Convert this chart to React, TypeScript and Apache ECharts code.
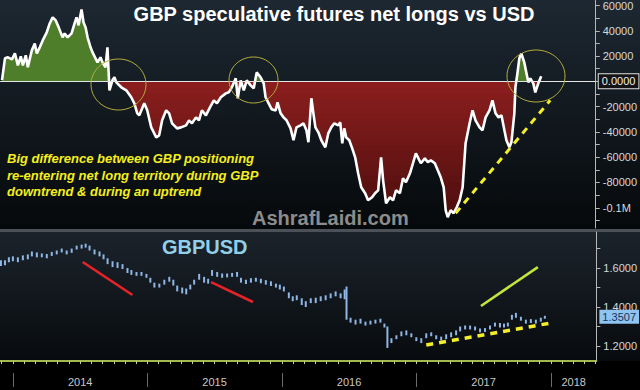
import React, { useEffect, useRef } from 'react';
import * as echarts from 'echarts';

// ---- GBP speculative futures net positions (contracts) ----
const cotDates = [
  2013.919, 2013.941, 2013.963, 2013.993, 2014.015, 2014.037, 2014.059, 2014.074, 2014.096, 2014.111,
  2014.141, 2014.163, 2014.178, 2014.2, 2014.222, 2014.252, 2014.274, 2014.296, 2014.319, 2014.341,
  2014.37, 2014.385, 2014.407, 2014.437, 2014.459, 2014.474, 2014.489, 2014.511, 2014.526, 2014.541,
  2014.556, 2014.578, 2014.593, 2014.615, 2014.63, 2014.652, 2014.667, 2014.689, 2014.704, 2014.719,
  2014.741, 2014.756, 2014.77, 2014.807, 2014.844, 2014.881, 2014.904, 2014.926, 2014.941, 2014.978,
  2015.0, 2015.03, 2015.067, 2015.089, 2015.111, 2015.141, 2015.163, 2015.185, 2015.222, 2015.252,
  2015.289, 2015.311, 2015.333, 2015.363, 2015.385, 2015.407, 2015.437, 2015.467, 2015.496, 2015.519,
  2015.548, 2015.585, 2015.607, 2015.63, 2015.659, 2015.674, 2015.696, 2015.719, 2015.741, 2015.77,
  2015.793, 2015.815, 2015.844, 2015.867, 2015.881, 2015.904, 2015.926, 2015.956, 2015.97, 2015.993,
  2016.015, 2016.037, 2016.067, 2016.089, 2016.111, 2016.141, 2016.163, 2016.185, 2016.2, 2016.222,
  2016.237, 2016.252, 2016.274, 2016.296, 2016.326, 2016.348, 2016.37, 2016.393, 2016.422, 2016.437,
  2016.452, 2016.467, 2016.481, 2016.504, 2016.526, 2016.548, 2016.57, 2016.593, 2016.622, 2016.644,
  2016.674, 2016.696, 2016.719, 2016.741, 2016.756, 2016.778, 2016.807, 2016.83, 2016.852, 2016.881,
  2016.904, 2016.926, 2016.956, 2016.978, 2017.0, 2017.015, 2017.037, 2017.067, 2017.089, 2017.111,
  2017.141, 2017.163, 2017.185, 2017.207, 2017.222, 2017.237, 2017.259, 2017.281, 2017.304, 2017.326,
  2017.348, 2017.37, 2017.4, 2017.422, 2017.444, 2017.474, 2017.496, 2017.519, 2017.548, 2017.57,
  2017.593, 2017.615, 2017.637, 2017.659, 2017.674, 2017.696, 2017.711, 2017.733, 2017.741, 2017.756,
  2017.77, 2017.785, 2017.807, 2017.822, 2017.837, 2017.852, 2017.874, 2017.889, 2017.911, 2017.933,
];
const cotNet = [
  1000, 18200, 19000, 17400, 22100, 12600, 19800, 12600, 20600, 11100,
  24500, 30000, 22100, 26900, 32400, 38700, 45800, 50600, 48200, 42700,
  34800, 37900, 34800, 37900, 45800, 50600, 44300, 56900, 46600, 42700,
  34800, 26900, 22900, 18200, 15000, 19000, 15000, 11100, 26900, -7100,
  800, 3200, -800, -4700, -7100, -12600, -17400, -25300, -26900, -17400,
  -22900, -36400, -44300, -42700, -30800, -22900, -25300, -33200, -37200, -36400,
  -34800, -30800, -33200, -28500, -30800, -22900, -26900, -20600, -15000, -17400,
  -12600, -9500, -8700, -4700, 2400, -13400, 800, -7100, 800, -3200,
  -5500, 7100, 3200, -1600, -12600, -17400, -22000, -23000, -16600, -25300,
  -28500, -30800, -37200, -46600, -36400, -34800, -33200, -38700, -48200, -13400,
  -25300, -36400, -40300, -46600, -52200, -41100, -36400, -33200, -34800, -32400,
  -49000, -37200, -44300, -46600, -53000, -60100, -72700, -83800, -88500, -94100,
  -91700, -88500, -86200, -60100, -78300, -96400, -91700, -94100, -86200, -88500,
  -76700, -79800, -72700, -64800, -56900, -60100, -64800, -60900, -64000, -62500,
  -64800, -70400, -75900, -83800, -102000, -107500, -102000, -104300, -99600, -94100,
  -83800, -49000, -33200, -22900, -30800, -36400, -38700, -28500, -22900, -15000,
  -25300, -28500, -26900, -38700, -46600, -52200, -48200, -25300, -4700, 6300,
  18200, 22100, 15000, 7100, -800, 2400, -1600, -8700, -1600, 4000,
];

// ---- GBPUSD bars (low / high) ----
const fxDates = [
  2013.911, 2013.941, 2013.97, 2014.0, 2014.037, 2014.074, 2014.111, 2014.141, 2014.178, 2014.215,
  2014.252, 2014.289, 2014.326, 2014.363, 2014.4, 2014.437, 2014.474, 2014.511, 2014.541, 2014.57,
  2014.607, 2014.644, 2014.674, 2014.704, 2014.741, 2014.778, 2014.815, 2014.852, 2014.881, 2014.919,
  2014.956, 2014.993, 2015.022, 2015.052, 2015.089, 2015.126, 2015.163, 2015.193, 2015.222, 2015.259,
  2015.289, 2015.319, 2015.348, 2015.385, 2015.422, 2015.452, 2015.481, 2015.519, 2015.556, 2015.593,
  2015.63, 2015.667, 2015.696, 2015.733, 2015.77, 2015.807, 2015.844, 2015.881, 2015.919, 2015.956,
  2015.985, 2016.015, 2016.052, 2016.081, 2016.111, 2016.148, 2016.178, 2016.215, 2016.252, 2016.289,
  2016.326, 2016.363, 2016.4, 2016.437, 2016.467, 2016.481, 2016.511, 2016.548, 2016.585, 2016.622,
  2016.659, 2016.696, 2016.733, 2016.763, 2016.785, 2016.815, 2016.852, 2016.889, 2016.926, 2016.963,
  2017.0, 2017.037, 2017.074, 2017.111, 2017.148, 2017.185, 2017.222, 2017.259, 2017.296, 2017.326,
  2017.363, 2017.4, 2017.437, 2017.474, 2017.511, 2017.548, 2017.585, 2017.622, 2017.652, 2017.681,
  2017.711, 2017.741, 2017.778, 2017.815, 2017.852, 2017.889, 2017.926, 2017.956,
];
const fxLow = [
  1.61, 1.615, 1.63, 1.635, 1.63, 1.64, 1.645, 1.66, 1.655, 1.655,
  1.65, 1.662, 1.67, 1.68, 1.67, 1.678, 1.695, 1.7, 1.705, 1.69,
  1.67, 1.66, 1.645, 1.62, 1.605, 1.6, 1.595, 1.575, 1.565, 1.56,
  1.56, 1.55, 1.525, 1.5, 1.5, 1.515, 1.53, 1.51, 1.48, 1.47,
  1.465, 1.49, 1.515, 1.54, 1.525, 1.52, 1.56, 1.555, 1.55, 1.552,
  1.555, 1.555, 1.525, 1.518, 1.525, 1.53, 1.522, 1.515, 1.508, 1.5,
  1.49, 1.48, 1.445, 1.43, 1.435, 1.41, 1.4, 1.42, 1.42, 1.43,
  1.435, 1.445, 1.455, 1.445, 1.44, 1.335, 1.32, 1.31, 1.315, 1.305,
  1.31, 1.315, 1.32, 1.295, 1.19, 1.215, 1.235, 1.25, 1.255, 1.245,
  1.225, 1.215, 1.24, 1.25, 1.235, 1.228, 1.235, 1.245, 1.255, 1.275,
  1.285, 1.285, 1.28, 1.27, 1.272, 1.285, 1.3, 1.295, 1.295, 1.3,
  1.335, 1.345, 1.33, 1.315, 1.318, 1.315, 1.325, 1.34,
];
const fxHigh = [
  1.64, 1.64, 1.655, 1.66, 1.655, 1.665, 1.67, 1.685, 1.68, 1.675,
  1.672, 1.683, 1.69, 1.7, 1.69, 1.7, 1.715, 1.72, 1.725, 1.715,
  1.695, 1.685, 1.67, 1.65, 1.635, 1.63, 1.62, 1.6, 1.59, 1.58,
  1.58, 1.57, 1.55, 1.525, 1.52, 1.54, 1.555, 1.54, 1.51, 1.5,
  1.495, 1.515, 1.54, 1.57, 1.555, 1.545, 1.59, 1.58, 1.572, 1.572,
  1.575, 1.58, 1.55, 1.54, 1.548, 1.55, 1.545, 1.538, 1.532, 1.52,
  1.515, 1.505, 1.475, 1.455, 1.46, 1.445, 1.43, 1.445, 1.448, 1.455,
  1.46, 1.47, 1.48, 1.47, 1.49, 1.505, 1.345, 1.335, 1.34, 1.325,
  1.33, 1.335, 1.34, 1.315, 1.3, 1.24, 1.255, 1.275, 1.28, 1.265,
  1.245, 1.24, 1.265, 1.27, 1.255, 1.248, 1.26, 1.27, 1.28, 1.3,
  1.305, 1.305, 1.3, 1.29, 1.292, 1.305, 1.32, 1.318, 1.315, 1.32,
  1.36, 1.37, 1.35, 1.335, 1.338, 1.335, 1.345, 1.355,
];
const fxLast = 1.3507;

// ---- axis labels ----
const cotLabelValues = [60000, 40000, 20000, -20000, -40000, -60000, -80000, -100000];
const cotTickValues = [60000, 50000, 40000, 30000, 20000, 10000, 0, -10000, -20000, -30000, -40000, -50000, -60000, -70000, -80000, -90000, -100000, -110000];
const fxLabelValues = [1.6, 1.4, 1.2];
const fxTickValues = [1.7, 1.6, 1.5, 1.4, 1.3, 1.2];
const yearTicks = [2014, 2015, 2016, 2017, 2018];
const yearLabelPositions = [2014.5, 2015.5, 2016.5, 2017.5, 2018.17];

const titleText = 'GBP speculative futures net longs vs USD';
const noteLines = [
  'Big difference between GBP positioning',
  're-entering net long territory during GBP',
  'downtrend & during an uptrend',
];
const watermark = 'AshrafLaidi.com';
const pairLabel = 'GBPUSD';

const X_MIN = 2013.904;
const X_MAX = 2018.339;
const AXIS_FONT = '"Liberation Sans Narrow", "Liberation Sans", Arial, sans-serif';
const BOLD_FONT = '"Liberation Sans", Arial, sans-serif';

function lerpColor(a: string, b: string, t: number) {
  const pa = [1, 3, 5].map((i) => parseInt(a.slice(i, i + 2), 16));
  const pb = [1, 3, 5].map((i) => parseInt(b.slice(i, i + 2), 16));
  const c = pa.map((v, i) => Math.round(v + (pb[i] - v) * t));
  return 'rgb(' + c.join(',') + ')';
}

export default function App() {
  const ref = useRef<HTMLDivElement>(null);
  useEffect(() => {
    if (!ref.current) return;
    const chart = echarts.init(ref.current, undefined, { renderer: 'svg' });

    const cotData = cotDates.map((d, i) => [d, cotNet[i]]);
    const fxData = fxDates.map((d, i) => [d, fxLow[i], fxHigh[i]]);

    const monthTicks: number[] = [];
    for (let m = 0; ; m++) {
      const v = 2013 + 11 / 12 + m / 12;
      if (v > X_MAX) break;
      monthTicks.push(v);
    }

    const pieces: any[] = [{ gt: 0, color: '#4f7e2a' }];
    for (let k = 0; k < 24; k++) {
      pieces.push({ gt: -(k + 1) * 5000, lte: -k * 5000, color: lerpColor('#8a1e1e', '#480c0c', k / 23) });
    }
    pieces.push({ lte: -120000, color: '#480c0c' });

    const lastDate = fxDates[fxDates.length - 1];

    const option: any = {
      animation: false,
      backgroundColor: '#000000',
      grid: [
        { left: 0, right: 39, top: 0, height: 228 },
        { left: 0, right: 39, top: 232, height: 129 },
      ],
      xAxis: [
        { gridIndex: 0, type: 'value', min: X_MIN, max: X_MAX, show: false },
        {
          gridIndex: 1, type: 'value', min: X_MIN, max: X_MAX, position: 'bottom',
          axisLine: { show: true, onZero: false, lineStyle: { color: '#a3b94f', width: 2 } },
          axisTick: { show: true, customValues: monthTicks, length: 3, lineStyle: { color: '#c6d48a' } },
          axisLabel: {
            show: true, customValues: yearLabelPositions, margin: 15,
            formatter: (v: number) => String(Math.floor(v + 1e-6)),
            color: '#c8c8c8', fontSize: 11, fontFamily: AXIS_FONT,
          },
          splitLine: { show: false },
        },
        {
          gridIndex: 1, type: 'value', min: X_MIN, max: X_MAX, position: 'bottom', offset: 12,
          axisLine: { show: false },
          axisTick: { show: true, customValues: yearTicks, length: 14, lineStyle: { color: '#6a6a6a' } },
          axisLabel: { show: false },
          splitLine: { show: false },
        },
      ],
      yAxis: [
        {
          gridIndex: 0, type: 'value', position: 'right', min: -116000, max: 64000,
          axisLine: { show: true, lineStyle: { color: '#b8b8b8' } },
          axisTick: { show: true, customValues: cotTickValues, length: 4, lineStyle: { color: '#b8b8b8' } },
          axisLabel: {
            show: true, customValues: cotLabelValues, margin: 7,
            formatter: (v: number) => (v === -100000 ? '-0.1M' : String(v)),
            color: '#d8d8d8', fontSize: 11, fontFamily: AXIS_FONT,
          },
          splitLine: { show: false },
        },
        {
          gridIndex: 1, type: 'value', position: 'right', min: 1.123, max: 1.785,
          axisLine: { show: true, lineStyle: { color: '#b8b8b8' } },
          axisTick: { show: true, customValues: fxTickValues, length: 4, lineStyle: { color: '#b8b8b8' } },
          axisLabel: {
            show: true, customValues: fxLabelValues, margin: 7,
            formatter: (v: number) => v.toFixed(4),
            color: '#d8d8d8', fontSize: 11, fontFamily: AXIS_FONT,
          },
          splitLine: { show: false },
        },
      ],
      visualMap: {
        show: false, type: 'piecewise', seriesIndex: 0, dimension: 1, pieces,
      },
      series: [
        {
          type: 'line', xAxisIndex: 0, yAxisIndex: 0, data: cotData, showSymbol: false, silent: true,
          lineStyle: { width: 0 }, areaStyle: { opacity: 1 }, z: 2,
        },
        {
          type: 'line', xAxisIndex: 0, yAxisIndex: 0, data: cotData, showSymbol: false, silent: true,
          lineStyle: { color: '#ffffff', width: 2.6 }, itemStyle: { color: '#ffffff' }, z: 3,
          markLine: {
            silent: true, symbol: 'none', animation: false,
            data: [
              {
                yAxis: 0,
                lineStyle: { color: '#e6e6e6', width: 1, type: 'solid' },
                label: {
                  show: true, position: 'end', distance: 3, formatter: '0.0000',
                  color: '#f0f0f0', backgroundColor: '#141414', borderColor: '#e0e0e0', borderWidth: 1,
                  padding: [2, 3, 1, 3], fontSize: 11, fontFamily: AXIS_FONT,
                },
              },
              [
                { coord: [2017.296, -104300], lineStyle: { color: '#f2ee2a', width: 3, type: [7, 6] }, label: { show: false } },
                { coord: [2018.0, -15000] },
              ],
            ],
          },
        },
        {
          type: 'custom', xAxisIndex: 1, yAxisIndex: 1, data: fxData, silent: true,
          encode: { x: 0, y: [1, 2] },
          renderItem: (params: any, api: any) => {
            const x = api.value(0);
            const top = api.coord([x, api.value(2)]);
            const bot = api.coord([x, api.value(1)]);
            return {
              type: 'rect',
              shape: { x: top[0] - 1, y: top[1], width: 2, height: Math.max(bot[1] - top[1], 1) },
              style: { fill: '#8fb6e4' },
            };
          },
          z: 2,
        },
        {
          type: 'line', xAxisIndex: 1, yAxisIndex: 1, data: [[lastDate, fxLast]], showSymbol: false, silent: true,
          lineStyle: { width: 0 }, z: 4,
          markLine: {
            silent: true, symbol: 'none', animation: false,
            data: [
              {
                yAxis: fxLast,
                lineStyle: { color: 'rgba(0,0,0,0)', width: 0 },
                label: {
                  show: true, position: 'end', distance: 3, formatter: fxLast.toFixed(4),
                  color: '#14365e', backgroundColor: '#8fc3f0', padding: [2, 3, 1, 3],
                  fontSize: 11, fontFamily: AXIS_FONT,
                },
              },
              [
                { coord: [2014.519, 1.631], lineStyle: { color: '#e52329', width: 2.6, type: 'solid' }, label: { show: false } },
                { coord: [2014.889, 1.4615] },
              ],
              [
                { coord: [2015.474, 1.528], lineStyle: { color: '#e52329', width: 2.6, type: 'solid' }, label: { show: false } },
                { coord: [2015.785, 1.4256] },
              ],
              [
                { coord: [2017.481, 1.405], lineStyle: { color: '#c2e63a', width: 2.6, type: 'solid' }, label: { show: false } },
                { coord: [2017.904, 1.605] },
              ],
              [
                { coord: [2017.074, 1.205], lineStyle: { color: '#f2ee2a', width: 3.5, type: [7, 6] }, label: { show: false } },
                { coord: [2018.0, 1.318] },
              ],
            ],
          },
        },
      ],
      graphic: [
        {
          type: 'rect', z: -10, silent: true,
          shape: { x: 0, y: 0, width: 640, height: 229 },
          style: { fill: new echarts.graphic.LinearGradient(0, 0, 0, 1, [
            { offset: 0, color: '#1d2832' }, { offset: 1, color: '#06090b' },
          ]) },
        },
        {
          type: 'rect', z: -10, silent: true,
          shape: { x: 0, y: 229, width: 640, height: 3 },
          style: { fill: '#4c5157' },
        },
        {
          type: 'rect', z: -10, silent: true,
          shape: { x: 0, y: 232, width: 640, height: 129 },
          style: { fill: new echarts.graphic.LinearGradient(0, 0, 0, 1, [
            { offset: 0, color: '#1b232b' }, { offset: 1, color: '#080b0e' },
          ]) },
        },
        {
          type: 'text', z: 10, silent: true, x: 334, y: 4,
          style: { text: titleText, fill: '#ffffff', font: 'bold 20px ' + BOLD_FONT, align: 'center', verticalAlign: 'top' },
        },
        ...noteLines.map((t, i) => ({
          type: 'text', z: 10, silent: true, x: 7, y: 152 + i * 16.5,
          style: { text: t, fill: '#f4ef1e', font: 'italic bold 13px ' + BOLD_FONT, align: 'left', verticalAlign: 'top' },
        })),
        {
          type: 'text', z: 10, silent: true, x: 252, y: 208,
          style: { text: watermark, fill: '#8c8c8c', font: 'bold 20px ' + BOLD_FONT, align: 'left', verticalAlign: 'top' },
        },
        {
          type: 'text', z: 10, silent: true, x: 162, y: 237,
          style: { text: pairLabel, fill: '#92d0ea', font: 'bold 20px ' + BOLD_FONT, align: 'left', verticalAlign: 'top' },
        },
        {
          type: 'ellipse', z: 10, silent: true, shape: { cx: 118.5, cy: 84.5, rx: 27.5, ry: 25.5 },
          style: { fill: 'none', stroke: '#b3ae3c', lineWidth: 1 },
        },
        {
          type: 'ellipse', z: 10, silent: true, shape: { cx: 253.5, cy: 80, rx: 24.5, ry: 23 },
          style: { fill: 'none', stroke: '#b3ae3c', lineWidth: 1 },
        },
        {
          type: 'ellipse', z: 10, silent: true, shape: { cx: 536, cy: 76, rx: 29, ry: 26 },
          style: { fill: 'none', stroke: '#b3ae3c', lineWidth: 1 },
        },
      ],
    };

    chart.setOption(option);
    return () => chart.dispose();
  }, []);

  return <div ref={ref} style={{ position: 'fixed', left: 0, top: 0, width: 640, height: 390 }} />;
}
